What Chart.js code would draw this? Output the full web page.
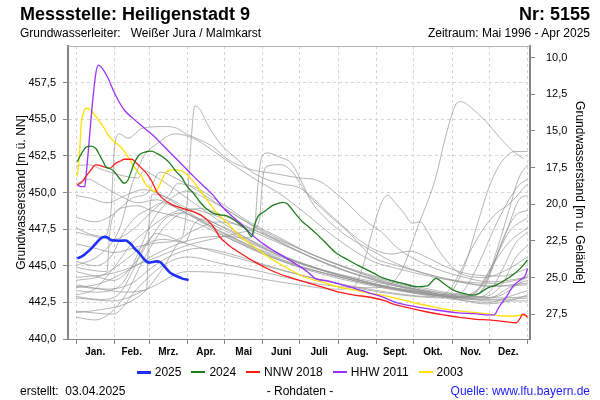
<!DOCTYPE html>
<html>
<head>
<meta charset="utf-8">
<script src="https://cdn.jsdelivr.net/npm/chart.js@4.4.1/dist/chart.umd.min.js"></script>
<style>
html,body{margin:0;padding:0;background:#fff;}
#wrap{position:relative;width:600px;height:400px;overflow:hidden;font-family:"Liberation Sans",Arial,sans-serif;color:#000;}
#c{position:absolute;left:0;top:0;}
.t{position:absolute;white-space:pre;}
#legend{position:absolute;left:0;width:600px;top:364px;height:16px;display:flex;justify-content:center;align-items:center;font-size:12px;}
#legend .it{display:flex;align-items:center;margin:0 5px;}
#legend .ln{width:14px;margin-right:4px;}
</style>
</head>
<body>
<div id="wrap">
<canvas id="c" width="600" height="400"></canvas>
<div class="t" style="left:20px;top:3px;font-size:18px;font-weight:bold;line-height:22px;">Messstelle: Heiligenstadt 9</div>
<div class="t" style="right:10px;top:3px;font-size:18px;font-weight:bold;line-height:22px;">Nr: 5155</div>
<div class="t" style="left:20px;top:26px;font-size:12px;line-height:14px;">Grundwasserleiter:   Weißer Jura / Malmkarst</div>
<div class="t" style="right:10px;top:26px;font-size:12px;line-height:14px;">Zeitraum: Mai 1996 - Apr 2025</div>
<div id="legend"></div>
<div class="t" style="left:20px;top:384px;font-size:12px;line-height:14px;">erstellt:  03.04.2025</div>
<div class="t" style="left:0;width:600px;text-align:center;top:384px;font-size:12px;line-height:14px;">- Rohdaten -</div>
<div class="t" style="right:10px;top:384px;font-size:12px;line-height:14px;color:#1a1aff;">Quelle: www.lfu.bayern.de</div>
</div>
<script>
// ---------- axis data ----------
const groundLevel = 469.2;
const leftTicks = [440, 442.5, 445, 447.5, 450, 452.5, 455, 457.5];
const rightTicks = [10, 12.5, 15, 17.5, 20, 22.5, 25, 27.5];
const monthStarts = [0, 31, 59, 90, 120, 151, 181, 212, 243, 273, 304, 334, 365];
const monthLabels = ['Jan.', 'Feb.', 'Mrz.', 'Apr.', 'Mai', 'Juni', 'Juli', 'Aug.', 'Sept.', 'Okt.', 'Nov.', 'Dez.'];

// ---------- highlighted series [day of year, m ü. NN] ----------
const s2025 = [[1,445.5],[5,445.65],[8,445.85],[12,446.15],[15,446.42],[19,446.8],[23,446.98],[26,446.9],[28,446.76],[32,446.72],[35,446.71],[40,446.72],[42,446.65],[45,446.42],[47,446.2],[50,445.96],[53,445.65],[55,445.44],[59,445.21],[62,445.26],[65,445.3],[68,445.25],[70,445.1],[72,444.9],[76,444.53],[78,444.42],[81,444.3],[84,444.2],[86,444.12],[91,444.03]];
const s2024 = [[1,452.1],[4,452.6],[8,453.09],[12,453.17],[16,453.0],[19,452.56],[22,452.1],[24,451.76],[27,451.65],[31,451.42],[35,450.97],[39,450.63],[42,450.85],[45,451.54],[47,451.99],[51,452.56],[57,452.79],[61,452.83],[65,452.68],[70,452.44],[76,451.99],[81,451.42],[86,450.97],[89,450.5],[95,449.95],[100,449.37],[105,448.92],[111,448.58],[116,448.48],[122,448.4],[128,448.12],[133,447.78],[138,447.44],[142,446.98],[144,447.67],[147,448.35],[152,448.69],[160,449.15],[167,449.33],[171,449.22],[176,448.69],[183,448.0],[188,447.67],[194,447.21],[201,446.64],[209,445.96],[220,445.39],[230,444.94],[241,444.48],[246,444.25],[253,444.03],[264,443.8],[275,443.57],[284,443.62],[291,444.14],[297,443.8],[305,443.34],[313,443.12],[321,443.0],[326,443.12],[332,443.46],[340,443.69],[347,444.03],[353,444.37],[360,444.89],[365,445.39]];
const nnw2018 = [[1,450.51],[5,450.74],[8,451.1],[11,451.42],[16,451.88],[19,451.85],[22,451.76],[27,451.65],[32,451.99],[36,452.15],[39,452.27],[45,452.27],[49,451.99],[53,451.65],[57,451.31],[61,450.8],[65,450.1],[70,449.6],[78,449.15],[86,448.92],[95,448.69],[103,448.35],[111,447.67],[116,446.98],[122,446.5],[125,446.3],[133,445.85],[144,445.28],[157,444.71],[171,444.25],[184,443.91],[198,443.57],[211,443.23],[225,443.0],[238,442.85],[250,442.6],[256,442.39],[270,442.1],[283,441.86],[297,441.64],[310,441.48],[324,441.34],[334,441.3],[347,441.18],[356,441.11],[359,441.41],[361,441.69],[363,441.64],[365,441.48]];
const hhw2011 = [[1,450.51],[4,450.4],[7,450.4],[8,451.08],[10,452.9],[13,455.86],[16,458.14],[18,458.7],[20,458.59],[23,458.25],[26,457.78],[30,457.0],[34,456.31],[39,455.63],[46,455.06],[54,454.49],[62,453.92],[70,453.24],[78,452.56],[86,451.88],[95,451.1],[103,450.45],[111,449.8],[117,449.15],[125,448.46],[133,447.9],[141,447.21],[149,446.64],[157,446.18],[168,445.62],[179,445.05],[187,444.59],[194,444.1],[203,443.98],[211,443.8],[225,443.46],[238,443.12],[247,442.89],[259,442.48],[275,442.2],[291,441.98],[307,441.8],[324,441.71],[334,441.64],[338,441.64],[342,442.2],[348,442.89],[353,443.57],[359,444.03],[363,444.3],[365,444.8]];
const s2003 = [[1,451.08],[3,452.9],[4,454.49],[6,455.41],[8,455.75],[11,455.68],[14,455.41],[18,454.95],[22,454.49],[26,453.92],[31,453.47],[37,453.02],[42,452.44],[47,451.76],[53,451.08],[56,450.6],[60,450.28],[64,450.05],[68,450.6],[73,451.42],[78,451.54],[85,451.49],[91,451.1],[96,450.63],[100,450.17],[106,449.49],[114,448.58],[117,448.35],[125,447.67],[133,446.98],[144,446.3],[157,445.51],[171,444.83],[184,444.25],[198,443.91],[211,443.57],[225,443.34],[238,443.12],[247,443.0],[259,442.78],[275,442.44],[291,442.16],[307,441.93],[324,441.8],[338,441.64],[345,441.57],[353,441.57],[361,441.64],[365,441.57]];

// ---------- other years (grey) ----------
const grey01 = [[0,446.5],[15,446.2],[31,445.9],[50,446.3],[70,446.6],[86,447.0],[90,449.5],[93,453.5],[96,455.9],[100,455.7],[106,454.7],[117,453.3],[130,452.3],[144,451.3],[165,450.6],[181,450.3],[208,448.3],[235,446.4],[255,445.8],[270,446.0],[283,445.6],[300,444.9],[320,444.4],[345,444.3],[365,444.8]];
const grey02 = [[0,447.6],[10,447.2],[22,447.0],[28,448.5],[31,453.0],[35,454.0],[42,453.7],[54,454.4],[73,454.5],[81,454.4],[89,454.0],[100,453.6],[111,453.1],[122,452.3],[140,451.6],[160,451.3],[180,451.0],[196,450.8],[215,449.6],[235,448.0],[247,447.3],[260,446.2],[285,445.0],[310,444.3],[335,443.9],[365,444.2]];
const grey03 = [[0,445.0],[20,445.8],[35,447.5],[45,450.5],[55,452.5],[65,453.3],[80,454.0],[95,453.7],[110,452.9],[125,452.0],[145,450.9],[165,449.9],[185,448.6],[210,446.9],[240,445.3],[260,444.8],[285,444.3],[310,443.9],[340,443.6],[365,443.7]];
const grey04 = [[0,443.5],[20,443.8],[40,444.6],[60,445.6],[80,446.4],[100,446.9],[120,447.0],[140,446.9],[144,447.3],[147,450.5],[150,452.4],[155,452.7],[165,452.4],[174,452.0],[182,450.8],[190,449.4],[200,448.4],[210,447.6],[225,446.7],[240,446.0],[255,445.3],[270,444.8],[290,444.3],[315,443.9],[340,443.8],[365,444.2]];
const grey05 = [[0,444.2],[30,444.5],[60,445.4],[90,446.4],[120,447.0],[140,447.4],[148,448.0],[151,451.0],[155,451.8],[165,451.9],[175,451.4],[185,450.1],[200,448.8],[220,447.3],[240,445.6],[260,445.0],[285,444.4],[310,443.9],[335,443.6],[365,443.8]];
const grey06 = [[0,441.9],[30,441.7],[50,443.5],[70,445.0],[90,445.6],[120,445.1],[150,444.6],[180,444.0],[210,443.6],[240,443.5],[255,443.8],[265,445.0],[276,447.6],[290,450.8],[300,454.2],[307,456.0],[311,456.2],[322,455.6],[333,454.7],[344,453.6],[355,452.7],[362,452.3]];
const grey07 = [[0,451.8],[10,451.9],[20,451.6],[35,451.2],[50,451.0],[55,451.5],[62,451.2],[75,450.5],[90,449.6],[110,448.4],[130,447.3],[150,446.3],[175,445.4],[200,444.7],[230,444.1],[260,443.6],[290,443.2],[320,442.9],[345,442.8],[365,442.9]];
const grey08 = [[0,442.8],[30,442.6],[60,443.5],[90,444.6],[120,444.5],[150,444.1],[180,443.7],[210,443.4],[225,443.6],[232,445.0],[240,447.5],[248,449.5],[252,449.8],[258,449.3],[265,448.6],[272,447.9],[278,448.0],[285,447.2],[292,446.2],[300,445.3],[310,444.5],[330,444.2],[350,444.8],[365,445.6]];
const grey09 = [[0,441.5],[15,441.3],[25,441.6],[40,443.0],[55,445.5],[70,447.5],[85,448.6],[100,448.9],[120,448.4],[140,447.6],[165,446.6],[190,445.6],[220,444.6],[250,443.9],[280,443.3],[310,442.9],[330,442.9],[345,443.8],[355,445.5],[365,446.4]];
const grey10 = [[0,441.8],[20,442.0],[40,442.4],[55,443.2],[70,444.8],[85,446.8],[100,447.6],[115,448.0],[135,447.7],[160,446.9],[190,445.8],[220,444.8],[250,443.9],[280,443.3],[310,442.7],[330,442.4],[345,442.5],[365,443.0]];
const grey11 = [[0,443.0],[15,443.4],[30,444.8],[45,446.5],[60,447.6],[75,448.5],[90,448.9],[110,448.5],[130,447.8],[160,446.7],[190,445.6],[220,444.6],[250,443.8],[280,443.2],[305,442.8],[320,443.0],[335,444.8],[350,447.3],[365,448.3]];
const grey12 = [[0,448.3],[15,448.0],[30,448.5],[45,449.6],[58,450.0],[68,451.4],[80,451.0],[95,450.3],[115,449.2],[140,447.9],[165,446.8],[190,445.8],[215,445.0],[245,444.2],[275,443.6],[305,443.1],[320,443.0],[330,443.5],[340,445.6],[350,447.8],[358,449.5],[365,449.8]];
const grey13 = [[0,449.8],[12,449.6],[25,449.3],[40,449.8],[55,450.2],[70,449.8],[90,448.7],[115,447.4],[140,446.3],[170,445.2],[200,444.4],[230,443.8],[260,443.3],[290,442.9],[315,442.6],[335,442.5],[350,442.9],[365,443.3]];
const grey14 = [[0,443.3],[15,443.2],[35,443.6],[50,445.8],[60,447.8],[70,449.0],[80,449.8],[90,450.1],[100,449.8],[120,448.9],[145,447.6],[170,446.4],[200,445.2],[230,444.3],[260,443.6],[290,443.1],[315,442.8],[330,443.6],[340,446.0],[350,448.8],[358,451.0],[365,451.9]];
const grey15 = [[0,447.3],[15,447.0],[30,446.8],[45,447.4],[60,448.6],[75,449.8],[82,450.6],[95,450.4],[115,449.4],[140,448.0],[165,446.9],[190,445.8],[220,444.8],[250,444.0],[280,443.4],[310,442.9],[330,442.7],[345,442.7],[365,442.8]];
const grey16 = [[0,444.0],[20,444.3],[40,445.4],[55,446.4],[70,446.8],[85,446.6],[110,446.0],[140,445.3],[170,444.6],[200,444.0],[230,443.5],[260,443.1],[285,442.9],[300,443.2],[310,444.5],[320,446.2],[330,447.6],[340,448.6],[350,449.2],[365,450.6]];
const grey17 = [[0,450.6],[10,450.9],[20,450.5],[35,449.8],[50,449.3],[65,449.5],[80,449.0],[100,448.1],[125,447.0],[150,446.0],[180,445.0],[210,444.3],[240,443.7],[270,443.2],[300,442.9],[320,442.8],[335,443.3],[345,444.8],[355,446.5],[365,447.3]];
const grey18 = [[0,444.6],[15,444.3],[30,444.0],[45,444.9],[60,446.8],[72,448.2],[85,448.6],[100,448.2],[125,447.2],[150,446.2],[180,445.2],[210,444.4],[240,443.8],[270,443.3],[300,443.0],[315,442.9],[325,443.3],[335,444.6],[345,446.8],[355,448.4],[365,448.8]];
const grey19 = [[0,444.9],[12,444.7],[25,444.6],[27,447.0],[30,448.4],[40,449.0],[50,449.1],[60,448.8],[75,448.5],[95,448.0],[120,447.0],[150,445.9],[180,445.0],[210,444.3],[240,443.7],[270,443.2],[300,442.9],[320,442.8],[340,442.9],[355,443.6],[365,444.3]];
const grey20 = [[0,442.9],[20,442.7],[35,443.1],[45,444.5],[55,446.3],[65,447.2],[75,447.0],[88,446.6],[95,447.8],[102,448.2],[115,447.8],[140,446.8],[170,445.6],[200,444.7],[230,444.0],[260,443.4],[290,443.0],[315,442.7],[335,442.8],[350,443.5],[365,444.0]];
const grey21 = [[121,447.2],[140,446.4],[165,445.6],[190,444.9],[220,444.2],[250,443.6],[280,443.2],[305,442.9],[325,443.4],[338,445.2],[350,446.6],[365,447.6]];
const grey22 = [[0,445.3],[15,445.0],[28,445.6],[38,447.2],[48,448.3],[60,448.9],[70,449.3],[80,449.0],[95,448.3],[115,447.3],[140,446.2],[170,445.2],[200,444.5],[230,443.9],[260,443.4],[290,443.0],[310,443.1],[320,444.2],[330,446.0],[340,447.9],[350,449.5],[358,450.5],[365,450.9]];
const grey23 = [[0,443.7],[25,443.4],[45,443.8],[60,444.8],[80,445.8],[100,446.2],[125,445.8],[155,445.0],[185,444.3],[215,443.7],[245,443.2],[275,442.9],[295,442.8],[305,443.4],[315,445.2],[325,448.0],[335,450.6],[345,452.2],[355,452.8],[365,452.8]];
const grey24 = [[0,443.6],[20,443.4],[40,443.2],[57,443.4],[59,448.0],[62,449.9],[75,449.6],[90,448.9],[110,448.0],[135,446.9],[165,445.7],[195,444.8],[225,444.1],[255,443.5],[285,443.1],[310,442.8],[335,442.6],[365,442.6]];

const greySeries = [grey01,grey02,grey03,grey04,grey05,grey06,grey07,grey08,grey09,grey10,grey11,grey12,grey13,grey14,grey15,grey16,grey17,grey18,grey19,grey20,grey21,grey22,grey23,grey24];

const seriesNames = ['2025', '2024', 'NNW 2018', 'HHW 2011', '2003'];
const seriesValues = [s2025, s2024, nnw2018, hhw2011, s2003];
const seriesColors = ['#1f2fff', '#1e7d1e', '#ff1a1a', '#9b30ff', '#ffe100'];
const seriesWidths = [2.6, 1.3, 1.3, 1.3, 1.3];

// ---------- build ----------
const FONT = '"Liberation Sans", Arial, sans-serif';
const toXY = arr => arr.map(p => ({x: p[0], y: p[1]}));
const fmt = v => v.toFixed(1).replace('.', ',');
const monthMids = monthLabels.map((m, i) => (monthStarts[i] + monthStarts[i + 1]) / 2);

const datasets = [];
seriesValues.forEach((s, i) => datasets.push({
  label: seriesNames[i], data: toXY(s), borderColor: seriesColors[i], borderWidth: seriesWidths[i],
  pointRadius: 0, fill: false, cubicInterpolationMode: 'monotone', xAxisID: 'x', yAxisID: 'y'
}));
greySeries.forEach((g, i) => datasets.push({
  label: 'grey' + i, data: toXY(g), borderColor: 'rgba(150,150,150,0.7)', borderWidth: 1,
  pointRadius: 0, fill: false, cubicInterpolationMode: 'monotone', xAxisID: 'x', yAxisID: 'y'
}));

// HTML legend from series arrays
const lg = document.getElementById('legend');
seriesNames.forEach((n, i) => {
  const it = document.createElement('div'); it.className = 'it';
  const ln = document.createElement('div'); ln.className = 'ln';
  ln.style.height = (i === 0 ? 3 : 1.5) + 'px'; ln.style.background = seriesColors[i];
  const tx = document.createElement('span'); tx.textContent = n;
  it.appendChild(ln); it.appendChild(tx); lg.appendChild(it);
});

const topFrame = {
  id: 'topFrame',
  afterDraw(chart) {
    const {ctx, chartArea: a} = chart;
    ctx.save(); ctx.strokeStyle = '#b4b4b4'; ctx.lineWidth = 1;
    ctx.beginPath(); ctx.moveTo(a.left, Math.round(a.top) + 0.5); ctx.lineTo(a.right, Math.round(a.top) + 0.5); ctx.stroke();
    ctx.restore();
  }
};

const GRID = '#d6d6d6', AX = '#858585';
new Chart(document.getElementById('c'), {
  type: 'line',
  data: {datasets},
  plugins: [topFrame],
  options: {
    responsive: false, animation: false, events: [],
    layout: {padding: {top: 46, bottom: 39, left: 0, right: 0}},
    plugins: {legend: {display: false}, tooltip: {enabled: false}},
    scales: {
      x: {
        type: 'linear', position: 'bottom', min: -6.5, max: 367,
        afterBuildTicks: s => { s.ticks = monthStarts.map(v => ({value: v})); },
        ticks: {display: false},
        grid: {color: GRID, lineWidth: 1, drawTicks: true, tickLength: 5, tickColor: AX, tickWidth: 1},
        border: {color: AX, width: 1, dash: [3, 3]},
        afterFit: s => { s.height = 5; }
      },
      xl: {
        type: 'linear', position: 'bottom', min: -6.5, max: 367,
        afterBuildTicks: s => { s.ticks = monthMids.map(v => ({value: v})); },
        ticks: {autoSkip: false, maxRotation: 0, padding: 2, color: '#000',
          font: {family: FONT, size: 10, weight: 'bold'}, callback: (v, i) => monthLabels[i]},
        grid: {display: false, drawTicks: false}, border: {display: false},
        afterFit: s => { s.height = 17; }
      },
      y: {
        type: 'linear', position: 'left', min: 440, max: 460,
        afterBuildTicks: s => { s.ticks = leftTicks.map(v => ({value: v})); },
        ticks: {padding: 7, color: '#000', font: {family: FONT, size: 11}, callback: v => fmt(v)},
        grid: {color: GRID, lineWidth: 1, tickLength: 5, tickColor: AX},
        border: {color: AX, width: 2, dash: [3, 3]},
        title: {display: true, text: 'Grundwasserstand [m ü. NN]', color: '#000',
          font: {family: FONT, size: 12}, padding: {top: 14, bottom: 0}},
        afterFit: s => { s.width = 68; }
      },
      y2: {
        type: 'linear', position: 'right', reverse: true,
        min: groundLevel - 460, max: groundLevel - 440,
        afterBuildTicks: s => { s.ticks = rightTicks.map(v => ({value: v})); },
        ticks: {padding: 11, color: '#000', font: {family: FONT, size: 11}, callback: v => fmt(v)},
        grid: {drawOnChartArea: false, tickLength: 5, tickColor: AX},
        border: {color: AX, width: 2},
        title: {display: true, text: 'Grundwasserstand [m u. Gelände]', color: '#000',
          font: {family: FONT, size: 12}, padding: {top: 13, bottom: 0}},
        afterFit: s => { s.width = 70; }
      }
    }
  }
});
</script>
</body>
</html>
